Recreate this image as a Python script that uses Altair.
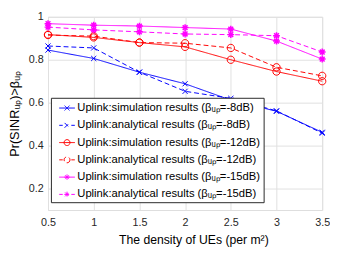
import altair as alt
import pandas as pd

x_vals = [0.5, 1.0, 1.5, 2.0, 2.5, 3.0, 3.5]
y_ticks = [0.2, 0.4, 0.6, 0.8, 1.0]

blue_sim = [0.845, 0.806, 0.742, 0.688, 0.612, 0.560, 0.462]
blue_ana = [0.864, 0.855, 0.742, 0.653, 0.620, 0.562, 0.458]
red_sim = [0.917, 0.904, 0.880, 0.860, 0.800, 0.745, 0.700]
red_ana = [0.915, 0.910, 0.880, 0.877, 0.855, 0.765, 0.725]
mag_sim = [0.968, 0.961, 0.957, 0.950, 0.943, 0.887, 0.803]
mag_ana = [0.952, 0.939, 0.930, 0.920, 0.917, 0.912, 0.836]

labels = [
    "Uplink:simulation results (βᵤₚ=-8dB)",
    "Uplink:analytical results (βᵤₚ=-8dB)",
    "Uplink:simulation results (βᵤₚ=-12dB)",
    "Uplink:analytical results (βᵤₚ=-12dB)",
    "Uplink:simulation results (βᵤₚ=-15dB)",
    "Uplink:analytical results (βᵤₚ=-15dB)",
]
series_values = [blue_sim, blue_ana, red_sim, red_ana, mag_sim, mag_ana]
colors = ["#0000ff", "#0000ff", "#ff0000", "#ff0000", "#ff00ff", "#ff00ff"]
dashes = [[1, 0], [5, 3], [1, 0], [5, 3], [1, 0], [5, 3]]

# marker shapes (unit coords)
X_M = "M-1,-1L1,1M-1,1L1,-1"
O_M = "M1,0A1,1 0 1,1 -1,0A1,1 0 1,1 1,0Z"
S_M = "M0,-1L0,1M-1,0L1,0M-0.7,-0.7L0.7,0.7M-0.7,0.7L0.7,-0.7"

# legend symbols: line segment + marker
lx = "M-0.31,-0.31L0.31,0.31M-0.31,0.31L0.31,-0.31"
lo = "M0.38,0A0.38,0.38 0 1,1 -0.38,0A0.38,0.38 0 1,1 0.38,0Z"
ls = "M0,-0.35L0,0.35M-0.35,0L0.35,0M-0.25,-0.25L0.25,0.25M-0.25,0.25L0.25,-0.25"
solid = "M-1,0L1,0"
dashed = "M-1,0L-0.55,0M0.55,0L1,0"
legend_paths = [solid + lx, dashed + lx, solid + lo, dashed + lo, solid + ls, dashed + ls]

rows = []
for name, vals in zip(labels, series_values):
    for xv, yv in zip(x_vals, vals):
        rows.append({"x": xv, "y": yv, "series": name})
df = pd.DataFrame(rows)

FONT = "Liberation Sans"

xenc = alt.X(
    "x:Q",
    scale=alt.Scale(domain=[0.5, 3.5], nice=False, zero=False),
    axis=alt.Axis(
        values=x_vals, format="~g", title="The density of UEs (per m²)",
        ticks=False, domain=False, labelPadding=7, titlePadding=6, titleX=149,
        labelFontSize=11, titleFontSize=12.5, labelFont=FONT, titleFont=FONT,
        labelColor="#262626", titleColor="black", titleFontWeight="normal",
        gridColor="#e0e0e0", labelFlush=False,
    ),
)
yenc = alt.Y(
    "y:Q",
    scale=alt.Scale(domain=[0.1, 1.0], nice=False, zero=False),
    axis=alt.Axis(
        values=y_ticks, format="~g", title="Pr(SINRᵤₚ)>βᵤₚ",
        ticks=False, domain=False, labelPadding=5, titlePadding=7,
        labelFontSize=11, titleFontSize=13, labelFont=FONT, titleFont=FONT,
        labelColor="#262626", titleColor="black", titleFontWeight="normal",
        gridColor="#e0e0e0", labelFlush=False,
    ),
)

cscale = alt.Scale(domain=labels, range=colors)

leg = alt.Legend(
    title=None, orient="none", legendX=3, legendY=83,
    padding=2, rowPadding=3.7, symbolSize=256, symbolOffset=6,
    labelOffset=2, labelFontSize=11.5, labelFont=FONT, labelColor="black",
    fillColor="white", strokeColor="#262626", symbolStrokeWidth=1,
    labelLimit=400,
)

# legend-only layer (first, so its legend settings win): drawn outside the view and clipped
legend_layer = alt.Chart(df).mark_point(
    filled=False, strokeWidth=1, opacity=1, size=256, clip=True
).encode(
    x=alt.value(-2000),
    y=alt.value(-2000),
    color=alt.Color("series:N", scale=cscale, legend=leg),
    shape=alt.Shape("series:N", scale=alt.Scale(domain=labels, range=legend_paths), legend=leg),
)

lines = alt.Chart(df).mark_line(strokeWidth=1).encode(
    x=xenc,
    y=yenc,
    color=alt.Color("series:N", scale=cscale, legend=leg),
    strokeDash=alt.StrokeDash("series:N", scale=alt.Scale(domain=labels, range=dashes), legend=None),
)

def marker_layer(shape_path, size, sw, names):
    return alt.Chart(df).transform_filter(
        alt.FieldOneOfPredicate(field="series", oneOf=names)
    ).mark_point(shape=shape_path, size=size, filled=False, strokeWidth=sw, opacity=1).encode(
        x=xenc,
        y=yenc,
        color=alt.Color("series:N", scale=cscale, legend=leg),
    )

pts_x = marker_layer(X_M, 28, 1, labels[0:2])
pts_o = marker_layer(O_M, 56, 1, labels[2:4])
pts_s = marker_layer(S_M, 49, 1.5, labels[4:6])

chart = alt.layer(legend_layer, lines, pts_x, pts_o, pts_s).properties(
    width=281, height=198,
    autosize=alt.AutoSizeParams(type="none"),
    padding={"left": 41, "top": 6, "right": 8, "bottom": 40},
).configure_view(stroke="#262626", strokeWidth=1).configure(background="white")

chart.save("out.html", embed_options={"renderer": "svg", "actions": False})
